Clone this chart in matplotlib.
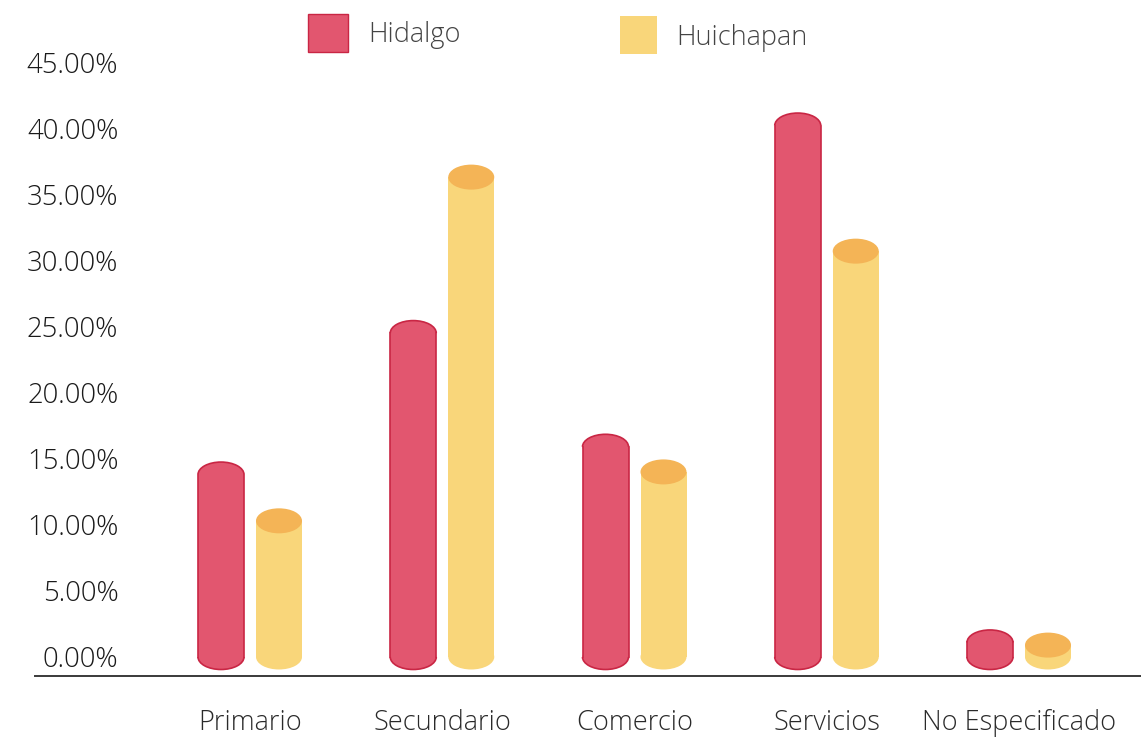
import matplotlib
matplotlib.use("Agg")
import matplotlib.pyplot as plt
from matplotlib.patches import Ellipse, Rectangle, Arc
import numpy as np

categories = ["Primario", "Secundario", "Comercio", "Servicios", "No Especificado"]
hidalgo = [13.8, 24.5, 15.9, 40.2, 1.1]
huichapan = [10.3, 36.3, 14.0, 30.7, 0.9]
series_names = ["Hidalgo", "Huichapan"]
yticks = [0, 5, 10, 15, 20, 25, 30, 35, 40, 45]
ytick_labels = ["0.00%", "5.00%", "10.00%", "15.00%", "20.00%", "25.00%",
                "30.00%", "35.00%", "40.00%", "45.00%"]

HID_FACE = "#E2566F"
HID_EDGE = "#C92644"
HUI_FACE = "#F9D67A"
HUI_TOP = "#F4B456"

plt.rcParams['font.family'] = ['Open Sans', 'DejaVu Sans']
plt.rcParams['font.weight'] = 'light'

W, H = 1141, 745
fig = plt.figure(figsize=(W / 100, H / 100), dpi=100)
ax_bottom = 69.5 / H
ax_top = (88 + 47 * 13.22) / H
ax = fig.add_axes([35 / W, ax_bottom, 1 - 35 / W, ax_top - ax_bottom])
ax.set_ylim(-1.4, 47)
unit = 192.25
ax.set_xlim((35 - 250) / unit, (1141 - 250) / unit)

bw = 46 / unit
off = 29 / unit
cap_h = 25 / 13.22

x = np.arange(len(categories))

def cylinder(xc, val, face, top, edge=None):
    ax.add_patch(Ellipse((xc, 0), bw, cap_h, facecolor=face, edgecolor='none', zorder=2))
    ax.add_patch(Rectangle((xc - bw / 2, 0), bw, val, facecolor=face, edgecolor='none', zorder=2))
    ax.add_patch(Ellipse((xc, val), bw, cap_h, facecolor=top, edgecolor='none', zorder=3))
    if edge is not None:
        ax.add_patch(Arc((xc, 0), bw, cap_h, theta1=180, theta2=360, color=edge, lw=1.2, zorder=4))
        ax.add_patch(Arc((xc, val), bw, cap_h, theta1=0, theta2=180, color=edge, lw=1.2, zorder=4))
        ax.plot([xc - bw / 2, xc - bw / 2], [0, val], color=edge, lw=1.2, zorder=4)
        ax.plot([xc + bw / 2, xc + bw / 2], [0, val], color=edge, lw=1.2, zorder=4)

for i in range(len(categories)):
    cylinder(x[i] - off, hidalgo[i], HID_FACE, HID_FACE, HID_EDGE)
    cylinder(x[i] + off, huichapan[i], HUI_FACE, HUI_TOP)

for s in ['top', 'right', 'left']:
    ax.spines[s].set_visible(False)
ax.spines['bottom'].set_color('#3a3a3a')
ax.spines['bottom'].set_linewidth(1.4)

ax.set_yticks(yticks)
ax.set_yticklabels(ytick_labels)
ax.tick_params(axis='y', length=0, pad=-60, labelsize=19.8, labelcolor='#1a1a1a')
for t in ax.get_yticklabels():
    t.set_horizontalalignment('right')
    t.set_fontweight('light')

ax.set_xticks(x)
ax.set_xticklabels(categories)
ax.tick_params(axis='x', length=0, pad=24, labelsize=19.5, labelcolor='#2a2a2a')
for t in ax.get_xticklabels():
    t.set_fontweight('light')

# legend
fig.add_artist(Rectangle((308 / W, 1 - 52 / H), 40 / W, 38 / H, transform=fig.transFigure,
                         facecolor=HID_FACE, edgecolor=HID_EDGE, lw=1.0))
fig.text(368 / W, 1 - 35 / H, series_names[0], fontsize=19.5, color='#444444',
         va='center', ha='left', fontweight='light')
fig.add_artist(Rectangle((620 / W, 1 - 54 / H), 37 / W, 38 / H, transform=fig.transFigure,
                         facecolor=HUI_FACE, edgecolor='none'))
fig.text(676 / W, 1 - 38 / H, series_names[1], fontsize=19.5, color='#444444',
         va='center', ha='left', fontweight='light')

fig.savefig("out.png", dpi=100)
